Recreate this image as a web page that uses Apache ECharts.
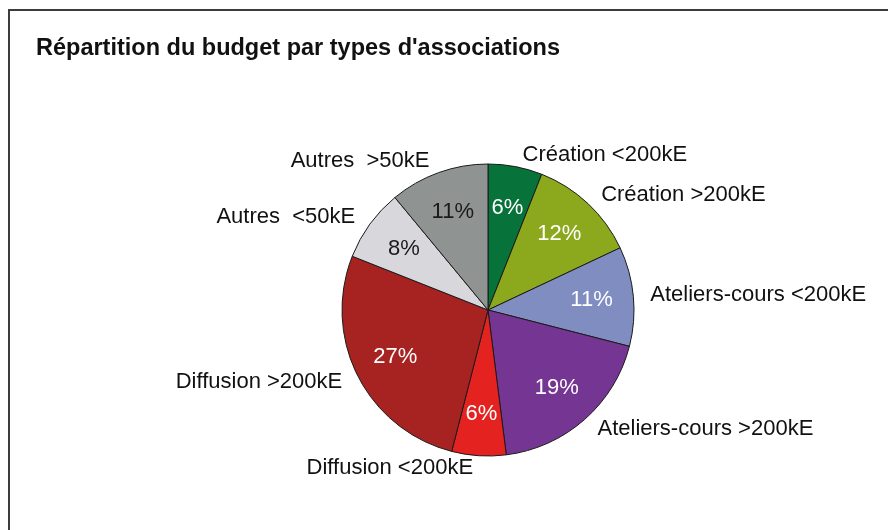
<!DOCTYPE html>
<html>
<head>
<meta charset="utf-8">
<script src="https://cdn.jsdelivr.net/npm/echarts@6/dist/echarts.min.js"></script>
<style>
  html, body { margin: 0; padding: 0; background: #fff; overflow: hidden; }
  #chart { width: 888px; height: 530px; }
</style>
</head>
<body>
<div id="chart"></div>
<script>
// types d'associations, dans le sens horaire depuis le haut
const categories = [
  'Création <200kE',
  'Création >200kE',
  'Ateliers-cours <200kE',
  'Ateliers-cours >200kE',
  'Diffusion <200kE',
  'Diffusion >200kE',
  'Autres  <50kE',
  'Autres  >50kE'
];
// part du budget (%)
const shares = [6, 12, 11, 19, 6, 27, 8, 11];

const colorList = ['#07733a', '#8ca81c', '#7f8dc0', '#753592', '#e42320', '#a62321', '#d8d8dc', '#8f9493'];
const darkText = [false, false, false, false, false, false, true, true];

const font = '"Liberation Sans", Arial, sans-serif';

const chart = echarts.init(document.getElementById('chart'));

const outerData = categories.map((name, i) => ({
  name,
  value: shares[i],
  itemStyle: {color: colorList[i]}
}));

// série transparente qui sert seulement à placer les pourcentages
const innerData = categories.map((name, i) => ({
  name,
  value: shares[i],
  label: {color: darkText[i] ? '#1a1a1a' : '#ffffff'}
}));

const option = {
  animation: false,
  // cadre gauche + haut
  graphic: [
    {
      type: 'polyline',
      silent: true,
      shape: {points: [[9, 600], [9, 10], [900, 10]]},
      style: {stroke: '#3c3c3c', lineWidth: 2, fill: null}
    }
  ],
  title: {
    text: "Répartition du budget par types d'associations",
    left: 31,
    top: 32,
    textStyle: {
      fontFamily: font,
      fontWeight: 'bold',
      fontSize: 23.5,
      color: '#111'
    }
  },
  series: [
    {
      type: 'pie',
      center: [488, 310],
      radius: 146,
      startAngle: 90,
      clockwise: true,
      avoidLabelOverlap: false,
      itemStyle: {borderColor: '#1a1a1a', borderWidth: 1},
      label: {
        show: true,
        position: 'outside',
        formatter: '{b}',
        fontFamily: font,
        fontSize: 22,
        color: '#111'
      },
      labelLine: {show: false, length: 12, length2: 0},
      emphasis: {disabled: true},
      data: outerData
    },
    {
      type: 'pie',
      center: [488, 310],
      radius: [62, 140],
      startAngle: 90,
      clockwise: true,
      silent: true,
      itemStyle: {color: 'transparent', borderWidth: 0},
      label: {
        show: true,
        position: 'inside',
        formatter: '{c}%',
        fontFamily: font,
        fontSize: 22
      },
      labelLine: {show: false},
      emphasis: {disabled: true},
      data: innerData
    }
  ]
};

chart.setOption(option);
</script>
</body>
</html>
